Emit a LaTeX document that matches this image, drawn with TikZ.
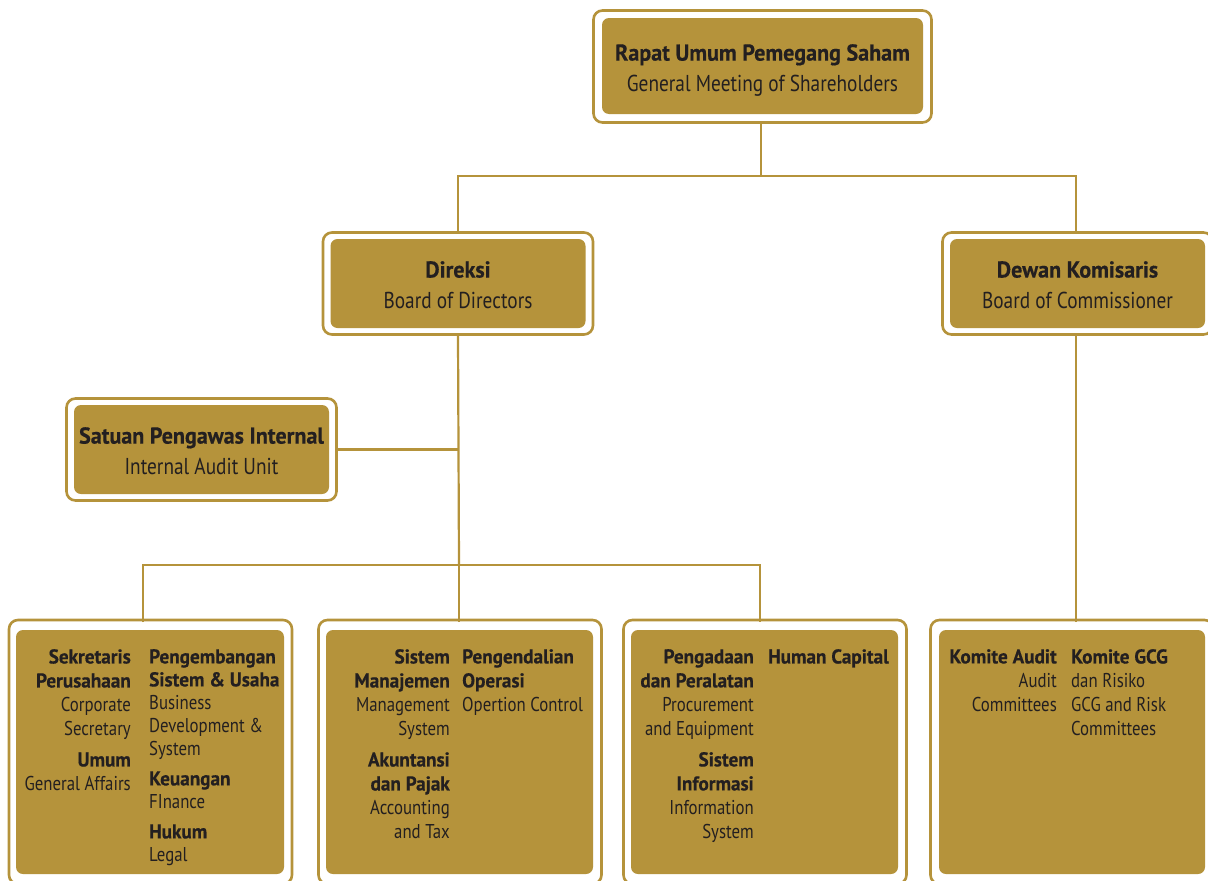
\documentclass[tikz,border=0pt]{standalone}
\usepackage{fontspec}
\setmainfont[FakeStretch=0.84, BoldFeatures={FakeStretch=0.96, FakeBold=0.4}]{PT Sans}
\definecolor{gold}{HTML}{B5933B}
\definecolor{ink}{HTML}{231F20}
\tikzset{
  outerbox/.style={draw=gold, line width=2.6pt, fill=white, rounded corners=9pt, inner sep=0pt},
  innerbox/.style={fill=gold, rounded corners=7pt, inner sep=0pt},
  conn/.style={draw=gold, line width=2.2pt},
  headtext/.style={text=ink, align=center, inner sep=0pt, font=\fontsize{23}{31}\selectfont},
  coltextR/.style={text=ink, align=right, inner sep=0pt, anchor=north east, font=\fontsize{20}{24}\selectfont},
  coltextL/.style={text=ink, align=left, inner sep=0pt, anchor=north west, font=\fontsize{20}{24}\selectfont}
}
\begin{document}
\begin{tikzpicture}[x=1pt,y=-1pt]
\useasboundingbox (0,0) rectangle (1208,881);
\clip (0,0) rectangle (1208,881);

% ---- connector junctions
\coordinate (t1) at (761,176);
\coordinate (t2) at (459,565);
\coordinate (c1) at (143,622);
\coordinate (c2) at (459,622);
\coordinate (c3) at (760,622);
\coordinate (c4) at (1076,622);
\coordinate (d1) at (459,336);
\coordinate (d2) at (1076,336);
\coordinate (r1) at (761,124);

% ---- top box
\node[outerbox, minimum width=338pt, minimum height=112pt] (rups) at (762.5,66.5) {};
\node[innerbox, minimum width=321pt, minimum height=96pt] (rupsin) at (762.5,66) {};
\node[headtext, anchor=north] (rupst) at (762.5,44) {{\bfseries Rapat Umum Pemegang Saham}\\General Meeting of Shareholders};

% ---- direksi
\node[outerbox, minimum width=270pt, minimum height=102pt] (dir) at (458,283.5) {};
\node[innerbox, minimum width=255pt, minimum height=89pt] (dirin) at (458,283.5) {};
\node[headtext, anchor=north] (dirt) at (458,261) {{\bfseries Direksi}\\Board of Directors};

% ---- dewan
\node[outerbox, minimum width=270pt, minimum height=102pt] (dew) at (1077.5,283.5) {};
\node[innerbox, minimum width=255pt, minimum height=89pt] (dewin) at (1077.5,283.5) {};
\node[headtext, anchor=north] (dewt) at (1077.5,261) {{\bfseries Dewan Komisaris}\\Board of Commissioner};

% ---- SPI
\node[outerbox, minimum width=270pt, minimum height=102pt] (spi) at (201.5,449.5) {};
\node[innerbox, minimum width=255pt, minimum height=89pt] (spiin) at (201.5,449.5) {};
\node[headtext, anchor=north] (spit) at (201.5,427) {{\bfseries Satuan Pengawas Internal}\\Internal Audit Unit};

% ---- bottom boxes
\node[outerbox, minimum width=283pt, minimum height=264pt] (b1) at (150.5,752) {};
\node[innerbox, minimum width=268pt, minimum height=244pt] (b1in) at (150,752) {};
\node[outerbox, minimum width=283pt, minimum height=264pt] (b2) at (460,752) {};
\node[innerbox, minimum width=267pt, minimum height=244pt] (b2in) at (459.5,752) {};
\node[outerbox, minimum width=283pt, minimum height=264pt] (b3) at (765,752) {};
\node[innerbox, minimum width=267pt, minimum height=244pt] (b3in) at (764.5,752) {};
\node[outerbox, minimum width=283pt, minimum height=264pt] (b4) at (1072,752) {};
\node[innerbox, minimum width=266pt, minimum height=244pt] (b4in) at (1072,752) {};

% ---- connectors
\draw[conn] (rups.south -| r1) -- (t1);
\draw[conn] (dir.north) |- (t1) -| (dew.north -| d2);
\draw[conn] (dir.south) -- (t2);
\draw[conn] (spi.east) -- (spi.east -| t2);
\draw[conn] (c1) |- (t2) -| (c3);
\draw[conn] (t2) -- (c2);
\draw[conn] (dew.south -| d2) -- (c4);

% ---- box 1 text
\node[coltextR] (b1l) at (131,649) {\bfseries Sekretaris\\\bfseries Perusahaan\\Corporate\\Secretary\\[7pt]\bfseries Umum\\General Affairs};
\node[coltextL, font=\fontsize{20}{23}\selectfont] (b1r) at (149,649) {\bfseries Pengembangan\\\bfseries Sistem \& Usaha\\Business\\Development \&\\System\\[7pt]\bfseries Keuangan\\FInance\\[7pt]\bfseries Hukum\\Legal};

% ---- box 2 text
\node[coltextR] (b2l) at (450,649) {\bfseries Sistem\\\bfseries Manajemen\\Management\\System\\[7pt]\bfseries Akuntansi\\\bfseries dan Pajak\\Accounting\\and Tax};
\node[coltextL] (b2r) at (462,649) {\bfseries Pengendalian\\\bfseries Operasi\\Opertion Control};

% ---- box 3 text
\node[coltextR] (b3l) at (754,649) {\bfseries Pengadaan\\\bfseries dan Peralatan\\Procurement\\and Equipment\\[7pt]\bfseries Sistem\\\bfseries Informasi\\Information\\System};
\node[coltextL] (b3r) at (768,649) {\bfseries Human Capital};

% ---- box 4 text
\node[coltextR] (b4l) at (1057,649) {\bfseries Komite Audit\\Audit\\Committees};
\node[coltextL] (b4r) at (1071,649) {\bfseries Komite GCG\\dan Risiko\\GCG and Risk\\Committees};
\end{tikzpicture}
\end{document}
